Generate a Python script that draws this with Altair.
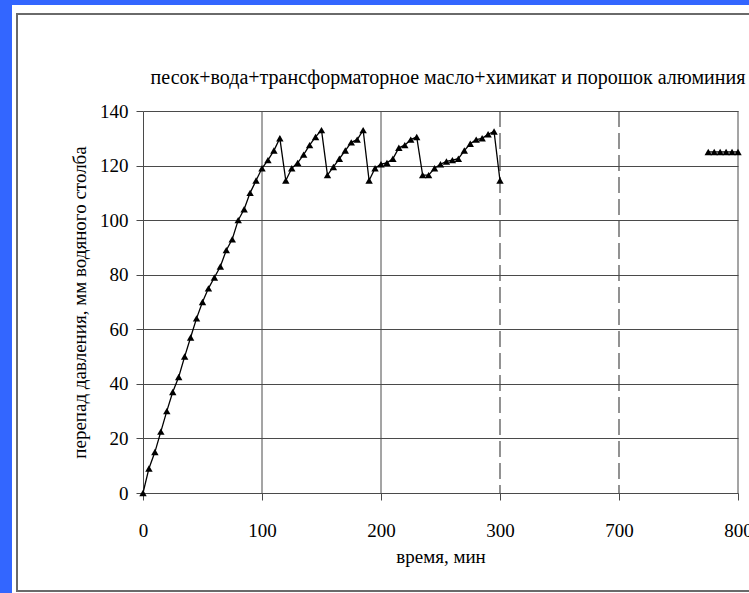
import altair as alt
import pandas as pd

# Measured pressure drop over time (minutes, mm water column)
time_min = [0, 5, 10, 15, 20, 25, 30, 35, 40, 45, 50, 55, 60, 65, 70, 75, 80, 85, 90, 95,
            100, 105, 110, 115, 120, 125, 130, 135, 140, 145, 150, 155, 160, 165, 170, 175,
            180, 185, 190, 195, 200, 205, 210, 215, 220, 225, 230, 235, 240, 245, 250, 255,
            260, 265, 270, 275, 280, 285, 290, 295, 300,
            775, 780, 785, 790, 795, 800]
pressure = [0, 9, 15, 22.5, 30, 37, 42.5, 50, 57, 64, 70, 75, 79, 83, 89, 93, 100, 104, 110, 114.5,
            119, 122, 125.5, 130, 114.5, 119, 121, 124, 127.5, 130.5, 133, 116.5, 119.5, 122.5, 125.5, 128.5,
            129.5, 133, 114.5, 119, 120.5, 121, 122.5, 126.5, 127.5, 129.5, 130.5, 116.5, 116.5, 119, 120.5, 121.5,
            122, 122.5, 125.5, 128, 129.5, 130, 131.5, 132.5, 114.5,
            125, 125, 125, 125, 125, 125]
run = ["first"] * 61 + ["late"] * 6

# Axis ticks of the broken time axis (300 -> 700 is collapsed)
tick_labels = [0, 100, 200, 300, 700, 800]
solid_lines = [100, 200, 800]
dashed_lines = [300, 700]
y_ticks = [0, 20, 40, 60, 80, 100, 120, 140]

chart_title = ["песок+вода+трансформаторное масло+химикат и порошок алюминия"]

FONT = "Liberation Serif"
GRID = "#4a4a4a"
BROKEN = "datum.t <= 300 ? datum.t : datum.t - 300"

df = pd.DataFrame({"t": time_min, "p": pressure, "run": run})

x_scale = alt.Scale(domain=[0, 500], nice=False)
y_scale = alt.Scale(domain=[0, 140], nice=False)

x_axis = alt.Axis(
    values=[0, 100, 200, 300, 400, 500],
    labelExpr="datum.value <= 300 ? datum.value : datum.value + 300",
    title="время, мин", titleFont=FONT, titleFontSize=19, titleFontWeight="normal",
    titlePadding=7, labelFont=FONT, labelFontSize=19, labelPadding=21, labelFlush=False,
    tickSize=7, tickColor=GRID, domainColor=GRID, grid=False, labelColor="black",
    titleColor="black",
)
y_axis = alt.Axis(
    values=y_ticks, title="перепад давления, мм водяного столба",
    titleFont=FONT, titleFontSize=19, titleFontWeight="normal", titlePadding=10,
    labelFont=FONT, labelFontSize=19, labelPadding=8, tickSize=7, labelFlush=False,
    tickColor=GRID, domainColor=GRID, grid=True, gridColor=GRID, gridOpacity=1,
    labelColor="black", titleColor="black",
)

one = pd.DataFrame({"k": [0]})

# Page decoration: blue edges and a framed panel
blue_left = alt.Chart(one).mark_rect(color="#3366ff").encode(
    x=alt.value(-143), x2=alt.value(-131), y=alt.value(-111), y2=alt.value(482))
blue_top = alt.Chart(one).mark_rect(color="#3366ff").encode(
    x=alt.value(-143), x2=alt.value(606), y=alt.value(-111), y2=alt.value(-106))
frame = alt.Chart(one).mark_rect(fill="transparent", stroke="#6a6a6a", strokeWidth=2).encode(
    x=alt.value(-126), x2=alt.value(640), y=alt.value(-97), y2=alt.value(480))

# Chart heading above the plot
heading = alt.Chart(pd.DataFrame({"label": chart_title})).mark_text(
    font=FONT, fontSize=20, color="black", align="center", baseline="middle",
).encode(x=alt.value(305), y=alt.value(-33), text="label:N")

base = alt.Chart(df).transform_calculate(pos=BROKEN)

solid = alt.Chart(pd.DataFrame({"t": solid_lines})).transform_calculate(pos=BROKEN).mark_rule(
    color=GRID, strokeWidth=1).encode(x=alt.X("pos:Q", scale=x_scale, axis=x_axis))
dashed = alt.Chart(pd.DataFrame({"t": dashed_lines})).transform_calculate(pos=BROKEN).mark_rule(
    color=GRID, strokeWidth=1.2, strokeDash=[16, 6]).encode(x=alt.X("pos:Q", scale=x_scale, axis=x_axis))

line = base.mark_line(color="black", strokeWidth=1.3).encode(
    x=alt.X("pos:Q", scale=x_scale, axis=x_axis),
    y=alt.Y("p:Q", scale=y_scale, axis=y_axis),
    detail="run:N",
)
points = base.mark_point(shape="triangle-up", filled=True, color="black", size=55, opacity=1).encode(
    x=alt.X("pos:Q", scale=x_scale, axis=x_axis),
    y=alt.Y("p:Q", scale=y_scale, axis=y_axis),
)

chart = alt.layer(blue_left, blue_top, frame, heading, solid, dashed, line, points).properties(
    width=595, height=382,
    autosize=alt.AutoSizeParams(type="none"),
    padding={"left": 143, "top": 111, "right": 11, "bottom": 100},
    background="white",
).configure_view(stroke=None)

chart.save("out.html", embed_options={"renderer": "svg", "actions": False})
